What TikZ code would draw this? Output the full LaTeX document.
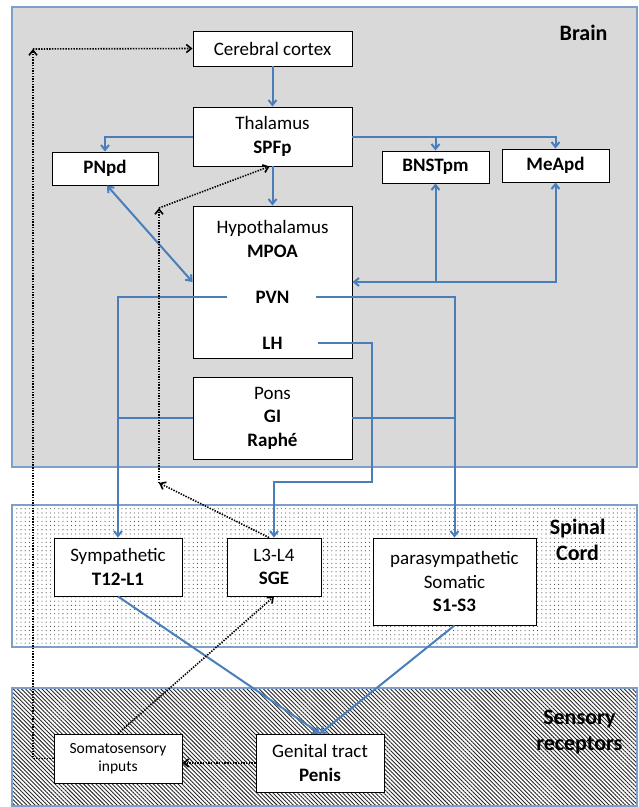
\documentclass[tikz,border=0pt]{standalone}
\usepackage{fontspec}
\setmainfont{Carlito}
\usetikzlibrary{arrows.meta,patterns.meta}

\definecolor{linkblue}{HTML}{4A7EBB}
\definecolor{zoneblue}{HTML}{7F9FCB}
\definecolor{brainfill}{HTML}{D9D9D9}

\tikzset{
  region/.style={draw=zoneblue, line width=1.2pt},
  area/.style={draw, fill=white, line width=0.9pt, inner sep=0pt, align=center,
    font=\fontsize{19}{23.5}\selectfont},
  word/.style={inner sep=1pt, align=center, font=\fontsize{19}{23.5}\selectfont},
  zonename/.style={align=center, font=\fontsize{22}{26}\selectfont\bfseries},
  barb/.tip={Straight Barb[length=5pt,width=8pt]},
  link/.style={draw=linkblue, line width=2pt, -barb},
  feedback/.style={draw, line width=1.6pt, dash pattern=on 1.4pt off 1.3pt, -barb},
}

\begin{document}
\begin{tikzpicture}[x=1pt, y=-1pt]
  \useasboundingbox (0,0) rectangle (639,807);

  % zones
  \fill[brainfill] (12,7) rectangle (637,467);
  \draw[region] (12,7) rectangle (637,467);
  \fill[white] (12,505) rectangle (637,647);
  \fill[pattern={Dots[radius=0.55pt, distance=4.2pt]}, pattern color=black!75] (12,505) rectangle (637,647);
  \draw[region] (12,505) rectangle (637,647);
  \fill[white] (12,688) rectangle (637,806);
  \fill[pattern={Lines[angle=-45, distance=2.9pt, line width=0.9pt]}, pattern color=black!85] (12,688) rectangle (637,806);
  \draw[region] (12,688) rectangle (637,806);

  \node[zonename, anchor=east] (brainlbl) at (611,33) {Brain};
  \node[zonename, anchor=east] (spinallbl) at (609,540) {Spinal\\Cord};
  \node[zonename, anchor=east] (sensorylbl) at (626,732) {Sensory\\receptors};

  % brain
  \node[area, minimum width=159pt, minimum height=35pt] (cortex) at (272.5,48.5) {Cerebral cortex};
  \node[area, minimum width=159pt, minimum height=59pt] (thal) at (272.5,136.5) {Thalamus\\\textbf{SPFp}};
  \node[area, minimum width=106pt, minimum height=33pt] (pnpd) at (105,168.5) {\textbf{PNpd}};
  \node[area, minimum width=107pt, minimum height=32pt] (bnst) at (435.5,167) {\textbf{BNSTpm}};
  \node[area, minimum width=107pt, minimum height=33pt] (meapd) at (555.5,165.5) {\textbf{MeApd}};
  \node[area, minimum width=159pt, minimum height=152pt] (hyp) at (272.5,282) {};
  \node[word] (hyptxt) at (272.5,239) {Hypothalamus\\\textbf{MPOA}};
  \node[word] (pvn) at (272.5,297) {\textbf{PVN}};
  \node[word] (lh) at (272.5,343) {\textbf{LH}};
  \node[area, minimum width=159pt, minimum height=82pt] (pons) at (272.5,418) {Pons\\\textbf{GI}\\\textbf{Raphé}};

  % spinal cord
  \node[area, minimum width=128pt, minimum height=58pt] (symp) at (118,567) {Sympathetic\\\textbf{T12-L1}};
  \node[area, minimum width=94pt, minimum height=58pt] (lumbar) at (274,567) {L3-L4\\\textbf{SGE}};
  \node[area, minimum width=163pt, minimum height=87pt] (para) at (454.5,581.5) {parasympathetic\\Somatic\\\textbf{S1-S3}};

  % receptors
  \node[area, minimum width=128pt, minimum height=49pt, font=\fontsize{15.5}{18}\selectfont] (soma) at (118,758.5) {Somatosensory\\inputs};
  \node[area, minimum width=128pt, minimum height=58pt] (genital) at (320,763) {Genital tract\\\textbf{Penis}};

  \coordinate (cornertl) at (33,49);
  \coordinate (bendlow) at (159,483);
  \coordinate (bendhigh) at (159,208);
  \coordinate (lhbend) at (372,482);

  % descending paths
  \draw[link] (cortex) -- (thal);
  \draw[link] (thal) -- (hyp);
  \draw[link] (thal.west) -| (pnpd.north);
  \draw[link] (thal.east) -| (meapd.north);
  \draw[link] (bnst.north |- thal.east) -- (bnst.north);
  \draw[link, barb-barb] ([xshift=2pt]pnpd.south) -- (hyp.west);
  \draw[link, barb-barb] (hyp.east) -| (meapd.south);
  \draw[link] (bnst.south |- hyp.east) -- (bnst.south);
  \draw[link] ([xshift=-27pt]pvn.west) -| (symp.north);
  \draw[link] ([xshift=25pt]pvn.east) -| (para.north);
  \draw[link, -] (pons.west) -- (symp.north |- pons.west);
  \draw[link, -] (pons.east) -- (para.north |- pons.east);
  \draw[link] ([xshift=34pt]lh.east) -| (lhbend) -| (lumbar.north);
  \draw[link] (symp.south) -- (genital.north);
  \draw[link] (para.south) -- (genital.north);

  % sensory feedback
  \draw[feedback] (genital.west) -- (genital.west -| soma.east);
  \draw[feedback] (soma.north) -- (lumbar.south);
  \draw[feedback] (soma.west) -| (cornertl);
  \draw[feedback] (cornertl) -- (cortex.west);
  \draw[feedback] ([xshift=-5pt]lumbar.north) -- (bendlow);
  \draw[feedback] (bendlow) -- (bendhigh);
  \draw[feedback] (bendhigh) -- ([xshift=-3pt]thal.south);
\end{tikzpicture}
\end{document}
